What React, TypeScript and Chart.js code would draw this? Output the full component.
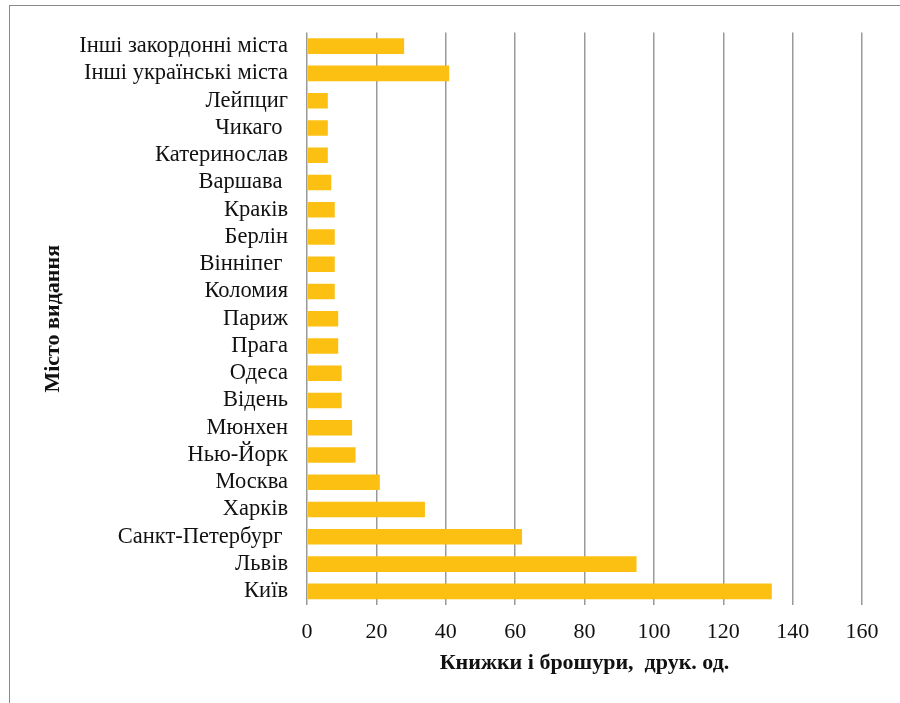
import React, { useEffect, useRef } from "react";
import { Chart, registerables } from "chart.js";

Chart.register(...registerables);

const cities: string[] = [
  "Інші закордонні міста",
  "Інші українські міста",
  "Лейпциг",
  "Чикаго ",
  "Катеринослав",
  "Варшава ",
  "Краків",
  "Берлін",
  "Вінніпег ",
  "Коломия",
  "Париж",
  "Прага",
  "Одеса",
  "Відень",
  "Мюнхен",
  "Нью-Йорк",
  "Москва",
  "Харків",
  "Санкт-Петербург ",
  "Львів",
  "Київ",
];

const books: number[] = [28, 41, 6, 6, 6, 7, 8, 8, 8, 8, 9, 9, 10, 10, 13, 14, 21, 34, 62, 95, 134];

const xTicks: number[] = [0, 20, 40, 60, 80, 100, 120, 140, 160];

const xTitle = "Книжки і брошури,  друк. од.";
const yTitle = "Місто видання";

const FONT = "'Liberation Serif', 'Times New Roman', serif";

export default function App() {
  const ref = useRef<HTMLCanvasElement | null>(null);

  useEffect(() => {
    if (!ref.current) return;
    const chart = new Chart(ref.current, {
      type: "bar",
      data: {
        labels: cities,
        datasets: [
          {
            data: books,
            backgroundColor: "#FCC012",
            borderWidth: 0,
            barPercentage: 0.57,
            categoryPercentage: 1,
          },
        ],
      },
      options: {
        indexAxis: "y",
        responsive: false,
        animation: false,
        devicePixelRatio: 1,
        layout: { padding: { left: 0, right: 38, top: 30, bottom: 0 } },
        plugins: {
          legend: { display: false },
          tooltip: { enabled: false },
          title: { display: false },
        },
        scales: {
          x: {
            min: 0,
            max: 160,
            afterBuildTicks: (scale: any) => {
              scale.ticks = xTicks.map((v) => ({ value: v }));
            },
            afterFit: (scale: any) => {
              scale.height = 98;
            },
            grid: {
              color: "#999999",
              lineWidth: 1.5,
              drawTicks: false,
            },
            border: { display: false },
            ticks: {
              padding: 14,
              color: "#111",
              font: { family: FONT, size: 22 },
            },
            title: {
              display: true,
              text: xTitle,
              color: "#111",
              font: { family: FONT, size: 22, weight: "bold" },
              padding: { top: 0, bottom: 26 },
            },
          },
          y: {
            afterFit: (scale: any) => {
              scale.width = 307;
            },
            grid: { display: false, drawTicks: false },
            border: { display: false },
            ticks: {
              padding: 19,
              color: "#111",
              autoSkip: false,
              font: { family: FONT, size: 22.5 },
            },
            title: {
              display: true,
              text: yTitle,
              color: "#111",
              font: { family: FONT, size: 22, weight: "bold" },
              padding: { top: 40, bottom: 0 },
            },
          },
        },
      },
    });
    return () => chart.destroy();
  }, []);

  return (
    <div
      style={{
        position: "fixed",
        left: 0,
        top: 0,
        width: 900,
        height: 703,
        background: "#fff",
      }}
    >
      <canvas ref={ref} width={900} height={703} style={{ display: "block" }} />
      <div
        style={{
          position: "absolute",
          left: 9,
          top: 5,
          right: 0,
          bottom: 0,
          borderTop: "1px solid #8a8a8a",
          borderLeft: "1px solid #8a8a8a",
          pointerEvents: "none",
        }}
      />
    </div>
  );
}
